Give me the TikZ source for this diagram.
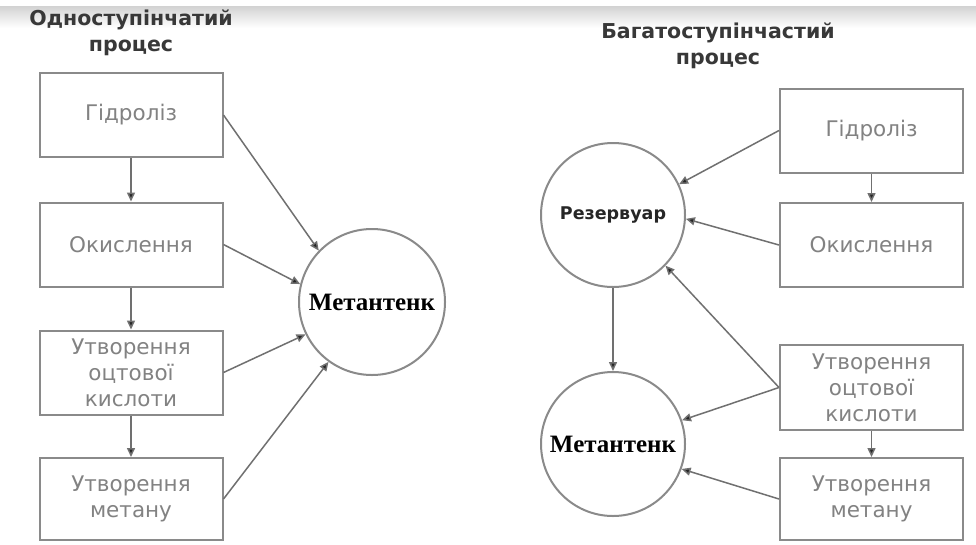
\documentclass[tikz,border=0pt]{standalone}
\usepackage{fontspec}
\setmainfont{DejaVu Sans}
\newfontfamily\serifbold{Liberation Serif}
\usetikzlibrary{arrows.meta}
\definecolor{edgec}{HTML}{8A8A8A}
\definecolor{arrc}{HTML}{707070}
\definecolor{txtc}{HTML}{828282}
\definecolor{headc}{HTML}{383838}
\begin{document}
\begin{tikzpicture}[x=1pt,y=-1pt,
  box/.style={draw=edgec, line width=2pt, minimum width=183pt, minimum height=84pt,
    inner sep=0pt, text=txtc, font=\fontsize{21.5}{26}\selectfont, align=center},
  tank/.style={draw=edgec, line width=2pt, circle, minimum size=146pt, inner sep=0pt},
  conn/.style={draw=arrc, line width=1.5pt, -{Triangle[length=9pt,width=8pt,fill=black!85]}},
  head/.style={font=\fontsize{20.5}{26}\bfseries\selectfont, text=headc, align=center}]
\fill[white] (0,0) rectangle (976,544);
\useasboundingbox (0,0) rectangle (976,544);
\shade[top color=gray!35, bottom color=white] (0,6) rectangle (976,28);

% left: single-stage
\node[head] (t1) at (131,33) {Одноступінчатий\\процес};
\node[box] (l1) at (131,115) {Гідроліз};
\node[box] (l2) at (131,244.5) {Окислення};
\node[box] (l3) at (131,372.5) {Утворення\\оцтової\\кислоти};
\node[box, minimum height=82pt] (l4) at (131,499) {Утворення\\метану};
\node[tank] (m1) at (372,302) {\serifbold\fontsize{25}{29}\bfseries\selectfont\color{black}Метантенк};

\draw[conn] (l1) -- (l2);
\draw[conn] (l2) -- (l3);
\draw[conn] (l3) -- (l4);
\draw[conn] (l1.east) -- (m1.136);
\draw[conn] (l2.east) -- (m1.166);
\draw[conn] (l3.east) -- (m1.206);
\draw[conn] (l4.east) -- (m1.234);

% right: multi-stage
\node[head] (t2) at (718,46) {Багатоступінчастий\\процес};
\node[box] (r1) at (871.5,130.5) {Гідроліз};
\node[box] (r2) at (871.5,245) {Окислення};
\node[box, minimum height=85pt] (r3) at (871.5,387.5) {Утворення\\оцтової\\кислоти};
\node[box, minimum height=82pt] (r4) at (871.5,499) {Утворення\\метану};
\node[tank, minimum size=144pt] (res) at (613,215) {\fontsize{17.5}{20}\bfseries\selectfont\color{black!85}Резервуар};
\node[tank, minimum size=144pt] (m2) at (613,444) {\serifbold\fontsize{25}{29}\bfseries\selectfont\color{black}Метантенк};

\draw[conn] (r1) -- (r2);
\draw[conn] (r3) -- (r4);
\draw[conn] (res) -- (m2);
\draw[conn] (r1.west) -- (res.25);
\draw[conn] (r2.west) -- (res.-3);
\draw[conn] (r3.west) -- (res.-44);
\draw[conn] (r3.west) -- (m2.19);
\draw[conn] (r4.west) -- (m2.-20);
\end{tikzpicture}
\end{document}
